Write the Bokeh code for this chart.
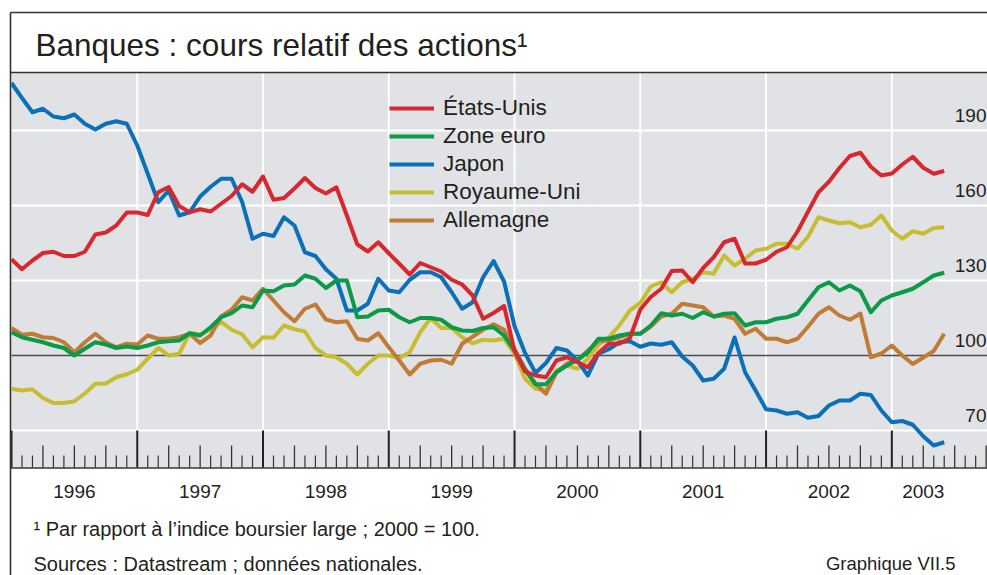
import pandas as pd
from bokeh.plotting import figure
from bokeh.models import Range1d, BoxAnnotation, Legend, LegendItem, Label
from bokeh.embed import file_html
from bokeh.resources import INLINE
from bokeh.core.properties import value

# ---------------- data (monthly, Jan 1996 - Jun 2003) ----------------
months = pd.date_range("1996-01-01", periods=90, freq="MS")

etats_unis = [138.5, 134.5, 138.0, 141.0, 141.5, 139.8, 139.8, 141.5, 148.4, 149.2,
              152.0, 157.2, 157.2, 156.2, 165.3, 167.4, 159.8, 157.3, 158.5, 157.6,
              160.7, 163.8, 168.5, 165.5, 171.6, 162.3, 163.0, 166.8, 171.0, 167.0,
              164.8, 167.3, 156.0, 144.4, 141.6, 145.3, 140.9, 136.7, 132.4, 137.0,
              135.3, 133.6, 130.3, 128.4, 124.0, 114.7, 117.0, 119.8, 101.8, 93.6,
              92.0, 91.3, 98.0, 99.3, 97.3, 95.3, 101.0, 104.7, 104.7, 106.9,
              118.4, 123.4, 126.7, 133.8, 134.0, 129.3, 135.0, 139.3, 145.3, 146.7,
              136.8, 136.8, 138.3, 141.5, 143.3, 149.6, 157.5, 165.3, 169.5, 175.0,
              179.8, 181.1, 175.5, 172.0, 172.8, 176.4, 179.5, 175.1, 172.7, 173.8]

zone_euro = [109.3, 107.3, 106.3, 105.3, 104.0, 103.0, 100.0, 102.7, 105.3, 104.4,
             103.0, 103.6, 103.0, 104.0, 105.3, 105.7, 106.0, 108.9, 108.0, 111.3,
             115.3, 116.9, 120.0, 119.3, 126.0, 125.7, 128.0, 128.4, 132.0, 130.7,
             127.0, 130.0, 130.0, 115.3, 115.6, 118.0, 118.3, 115.3, 113.3, 115.0,
             115.0, 114.3, 111.3, 110.0, 109.8, 111.0, 111.3, 108.0, 102.0, 94.3,
             88.5, 88.5, 93.3, 96.0, 98.3, 101.3, 106.7, 106.7, 108.0, 108.7,
             108.7, 112.0, 116.9, 116.0, 116.7, 115.0, 117.3, 115.6, 116.7, 116.9,
             112.0, 113.3, 113.3, 114.7, 115.3, 116.7, 122.0, 127.3, 129.3, 126.0,
             128.0, 125.7, 117.3, 122.0, 124.0, 125.3, 126.7, 129.3, 132.0, 133.1]

japon = [209.0, 203.0, 197.3, 198.7, 195.6, 194.9, 196.4, 192.7, 190.4, 192.7,
         193.7, 192.7, 184.0, 172.7, 161.3, 166.0, 156.0, 157.3, 163.6, 167.5,
         170.7, 170.7, 161.5, 146.7, 148.7, 147.8, 155.3, 152.0, 141.3, 139.8,
         134.5, 130.7, 118.0, 118.0, 120.7, 130.7, 126.0, 125.3, 130.3, 133.3,
         133.3, 131.3, 125.3, 118.7, 121.3, 131.3, 137.8, 129.6, 111.7, 101.0,
         93.0, 97.0, 103.0, 102.0, 98.0, 92.0, 100.7, 102.5, 105.3, 105.7,
         103.5, 104.8, 104.3, 105.3, 99.6, 96.0, 90.0, 90.7, 94.7, 107.2,
         93.3, 86.0, 78.5, 78.0, 76.7, 77.3, 75.1, 75.8, 80.0, 82.0,
         82.0, 84.7, 84.2, 78.0, 73.3, 73.8, 72.3, 67.7, 64.0, 65.3]

royaume_uni = [86.7, 86.0, 86.5, 83.0, 81.0, 81.0, 81.7, 84.8, 88.7, 88.8,
               91.3, 92.5, 94.3, 98.7, 103.0, 100.0, 100.7, 109.0, 108.5, 110.3,
               113.5, 110.3, 108.5, 103.3, 107.3, 107.1, 112.0, 110.5, 109.6, 103.0,
               100.0, 99.3, 96.7, 92.4, 96.7, 100.0, 100.0, 99.0, 101.3, 109.3,
               115.0, 111.0, 111.0, 107.3, 104.9, 106.3, 106.0, 106.7, 100.7, 90.7,
               86.7, 86.0, 94.0, 96.0, 94.7, 98.7, 104.3, 107.3, 112.0, 118.0,
               121.0, 127.6, 129.3, 125.3, 129.3, 130.7, 133.3, 132.7, 140.0, 136.0,
               138.7, 142.0, 142.7, 144.7, 144.7, 142.7, 147.5, 155.3, 154.0, 152.9,
               153.3, 151.3, 152.3, 156.0, 150.0, 146.7, 149.7, 148.7, 151.0, 151.3]

allemagne = [111.0, 108.3, 108.7, 107.3, 107.0, 105.3, 101.3, 105.3, 108.7, 105.3,
             103.3, 104.7, 104.4, 108.0, 106.7, 106.7, 107.3, 108.7, 105.0, 108.0,
             115.6, 118.3, 123.3, 122.0, 126.7, 122.0, 117.3, 113.7, 118.7, 120.4,
             114.4, 113.3, 113.7, 106.7, 106.0, 108.9, 103.3, 98.0, 92.4, 96.7,
             98.0, 98.3, 96.7, 104.7, 107.5, 110.3, 112.5, 110.3, 102.5, 94.7,
             88.7, 84.7, 93.3, 96.7, 98.0, 102.0, 105.7, 106.0, 107.3, 108.7,
             108.7, 111.6, 115.6, 116.7, 120.7, 120.0, 119.3, 115.6, 116.0, 114.7,
             108.7, 110.7, 106.7, 106.7, 105.3, 106.7, 111.5, 116.7, 119.3, 116.0,
             114.3, 116.8, 99.3, 100.8, 104.0, 100.0, 96.6, 99.2, 101.8, 108.7]

series_names = ["États-Unis", "Zone euro", "Japon", "Royaume-Uni", "Allemagne"]
year_labels = ["1996", "1997", "1998", "1999", "2000", "2001", "2002", "2003"]
right_ticks = [70, 100, 130, 160, 190]
axis_end_year = 2003.5

# ---------------- geometry (picture pixels -> data) ----------------
W, H = 987, 575
X_LEFT_PX = 11.0
PX_PER_YEAR = 125.76
Y100_PX = 355.0
PX_PER_UNIT = 2.5


def tx(px):
    return 1996 + (px - X_LEFT_PX) / PX_PER_YEAR


def vy(py):
    return 100 + (Y100_PX - py) / PX_PER_UNIT


t = [d.year + (d.month - 1) / 12 for d in months]
X_START, X_END = tx(0), tx(W)

FONT = "Liberation Sans"
TXT = "#231f20"
GRAY = "#e1e2e6"

p = figure(width=W, height=H, x_range=Range1d(X_START, X_END),
           y_range=Range1d(vy(H), vy(0)), output_backend="svg",
           toolbar_location=None, x_axis_location=None, y_axis_location=None,
           min_border=0, min_border_left=0, min_border_right=0,
           min_border_top=0, min_border_bottom=0,
           background_fill_color="white", border_fill_color="white",
           outline_line_color=None)
p.xgrid.visible = False
p.ygrid.visible = False

# plotting background
p.add_layout(BoxAnnotation(left=tx(11), right=X_END, bottom=vy(467), top=vy(72),
                           fill_color=GRAY, fill_alpha=1, line_color=None,
                           level="underlay"))

# horizontal grid lines
white_levels = [v for v in right_ticks if v != 100]
p.segment(x0=[tx(11)] * len(white_levels), x1=[X_END] * len(white_levels),
          y0=white_levels, y1=white_levels, line_color="white", line_width=2)

# vertical grid lines at year boundaries
years_b = list(range(1997, 2004))
p.segment(x0=years_b, x1=years_b, y0=[70] * len(years_b), y1=[vy(72)] * len(years_b),
          line_color="white", line_width=2)

# 100 reference line
p.segment(x0=[tx(11)], x1=[X_END], y0=[100], y1=[100], line_color="#4d4d4d", line_width=1.6)

# tick band: month, quarter and year ticks
n_months = int((X_END - 1996) * 12) + 1
mx, qx, yx = [], [], []
for k in range(n_months):
    xv = 1996 + k / 12
    if k % 12 == 0:
        yx.append(xv)
    elif k % 3 == 0:
        qx.append(xv)
    else:
        mx.append(xv)
bottom_v = vy(467)
p.segment(x0=mx, x1=mx, y0=[bottom_v] * len(mx), y1=[vy(455)] * len(mx),
          line_color="#333333", line_width=1.2)
p.segment(x0=qx, x1=qx, y0=[bottom_v] * len(qx), y1=[vy(445)] * len(qx),
          line_color="#333333", line_width=1.3)
p.segment(x0=yx, x1=yx, y0=[bottom_v] * len(yx), y1=[70] * len(yx),
          line_color="#222222", line_width=2)

# frame lines
p.segment(x0=[tx(10), tx(10), tx(10), tx(10)],
          x1=[X_END, X_END, tx(10), X_END],
          y0=[vy(12), vy(72), vy(12), vy(467.5)],
          y1=[vy(12), vy(72), vy(H), vy(467.5)],
          line_color="#333333", line_width=1.6)

# series
colors = {"États-Unis": "#d7282f", "Zone euro": "#0b9a48", "Japon": "#0a70b8",
          "Royaume-Uni": "#c6be30", "Allemagne": "#c07b35"}
data = {"États-Unis": etats_unis, "Zone euro": zone_euro, "Japon": japon,
        "Royaume-Uni": royaume_uni, "Allemagne": allemagne}
renderers = {}
for name in ["Royaume-Uni", "Allemagne", "Japon", "Zone euro", "États-Unis"]:
    renderers[name] = p.line(t, data[name], line_color=colors[name], line_width=4,
                             line_join="round")

legend = Legend(items=[LegendItem(label=n, renderers=[renderers[n]]) for n in series_names],
                location=(389, 342), orientation="vertical", glyph_width=45,
                glyph_height=20, label_standoff=9, spacing=2, padding=0, margin=0,
                border_line_color=None, background_fill_alpha=0,
                label_text_font=FONT, label_text_font_size="22.5px",
                label_text_color=TXT)
p.add_layout(legend)

# right value labels (centred 15 px above their grid line)
p.text(x=[X_END] * len(right_ticks), y=right_ticks, text=[str(v) for v in right_ticks],
       text_align="right", text_baseline="middle", x_offset=-1, y_offset=-15,
       text_font=value(FONT), text_font_size="19px", text_color=TXT)

# year labels (centred on the visible part of each year)
label_x = [(int(y) + min(int(y) + 1, axis_end_year)) / 2 for y in year_labels]
p.text(x=label_x, y=[vy(491)] * len(year_labels), text=year_labels,
       text_align="center", text_baseline="middle",
       text_font=value(FONT), text_font_size="19px", text_color=TXT)

# title and notes
p.add_layout(Label(x=tx(35), y=vy(44), text="Banques : cours relatif des actions¹",
                   text_font=FONT, text_font_size="31.5px", text_color=TXT,
                   text_baseline="middle"))
p.add_layout(Label(x=tx(33), y=vy(528), text="¹ Par rapport à l’indice boursier large ; 2000 = 100.",
                   text_font=FONT, text_font_size="20px", text_color=TXT,
                   text_baseline="middle"))
p.add_layout(Label(x=tx(33), y=vy(563), text="Sources : Datastream ; données nationales.",
                   text_font=FONT, text_font_size="20px", text_color=TXT,
                   text_baseline="middle"))
p.add_layout(Label(x=tx(955), y=vy(563), text="Graphique VII.5",
                   text_font=FONT, text_font_size="18.5px", text_color=TXT,
                   text_align="right", text_baseline="middle"))

open("out.html", "w").write(file_html(p, INLINE))
